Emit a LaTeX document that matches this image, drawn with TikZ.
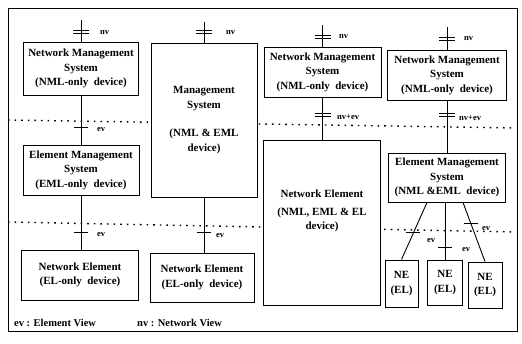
\documentclass[tikz,border=0pt]{standalone}
\usepackage{fontspec}
\setmainfont{Liberation Serif}
\usetikzlibrary{calc}
\begin{document}
\begin{tikzpicture}[x=1pt,y=-1pt,
  box/.style={draw,line width=0.9pt,fill=white,inner sep=0pt},
  txt/.style={font=\bfseries\fontsize{11}{14.5}\selectfont,align=center},
  lbl/.style={font=\bfseries\fontsize{8.5}{10}\selectfont,anchor=west,inner sep=0pt},
  leg/.style={font=\bfseries\fontsize{10.5}{12}\selectfont,anchor=west,inner sep=0pt},
  dots/.style={line width=1.4pt,dash pattern=on 1.6pt off 5pt},
  conn/.style={line width=0.9pt},
  tick/.style={line width=0.8pt},
  nvtick/.pic={\draw[tick] (-8,-1.5) -- (8,-1.5) (-8,1.5) -- (8,1.5);},
  evtick/.pic={\draw[tick] (-7,0) -- (7,0);}
]
\useasboundingbox (0,0) rectangle (522,344);
% frame
\draw[line width=0.9pt] (8,8) rectangle (517,331);
% level separators
\coordinate (d1a) at (8,120);  \coordinate (d1b) at (516,128);
\coordinate (d2a) at (8,222);  \coordinate (d2b) at (516,232);
\draw[dots] (d1a) -- (d1b);
\draw[dots] (d2a) -- (d2b);

% column 1
\node[box,txt,minimum width=115pt,minimum height=53pt] (nms1) at (81,68.5) {Network Management\\System\\(NML-only\ \ device)};
\node[box,txt,minimum width=116pt,minimum height=50pt] (ems1) at (81,170) {Element Management\\System\\(EML-only\ \ device)};
\node[box,txt,minimum width=117pt,minimum height=50pt] (ne1) at (80,275) {Network Element\\(EL-only\ \ device)};
% column 2
\node[box,txt,minimum width=106pt,minimum height=154pt] (ms2) at (204,120) {Management\\System\\[14pt](NML \& EML\\device)};
\node[box,txt,minimum width=104pt,minimum height=49pt] (ne2) at (202,277.5) {Network Element\\(EL-only\ \ device)};
% column 3
\node[box,txt,minimum width=117pt,minimum height=50pt] (nms3) at (322.5,72) {Network Management\\System\\(NML-only\ \ device)};
\node[box,minimum width=117pt,minimum height=165pt] (ne3) at (322,222.5) {};
\node[txt] (ne3t) at (322,211) {Network Element\\[3pt](NML, EML \& EL\\device)};
% column 4
\node[box,txt,minimum width=119pt,minimum height=50pt] (nms4) at (447,75) {Network Management\\System\\(NML-only\ \ device)};
\node[box,txt,minimum width=117pt,minimum height=49pt] (ems4) at (447,177.5) {Element Management\\System\\(NML \&EML\ \ device)};
\node[box,txt,minimum width=33pt,minimum height=47pt] (nea) at (401.5,283.5) {NE\\(EL)};
\node[box,txt,minimum width=35pt,minimum height=45pt] (neb) at (445,282.5) {NE\\(EL)};
\node[box,txt,minimum width=34pt,minimum height=46pt] (nec) at (485,285) {NE\\(EL)};

% top free ends
\coordinate (top1) at (81,20);
\coordinate (top2) at (204,22);
\coordinate (top3) at (322.5,25);
\coordinate (top4) at (447,27);

% connectors
\draw[conn] (top1) -- coordinate[pos=0.55] (k1) (nms1.north);
\draw[conn] (nms1.south) -- coordinate[pos=0.66] (k2) (ems1.north);
\draw[conn] (ems1.south) -- coordinate[pos=0.69] (k3) (ems1.south |- ne1.north);
\draw[conn] (top2) -- coordinate[pos=0.48] (k4) (ms2.north);
\draw[conn] (ms2.south) -- coordinate[pos=0.64] (k5) (ms2.south |- ne2.north);
\draw[conn] (top3) -- coordinate[pos=0.55] (k6) (nms3.north);
\draw[conn] (nms3.south) -- coordinate[pos=0.42] (k7) (nms3.south |- ne3.north);
\draw[conn] (top4) -- coordinate[pos=0.52] (k8) (nms4.north);
\draw[conn] (nms4.south) -- coordinate[pos=0.28] (k9) (ems4.north);
\draw[conn] ($(ems4.south)+(-20,0)$) -- coordinate[pos=0.53] (ka) (nea.north);
\draw[conn] (ems4.south -| neb.north) -- coordinate[pos=0.78] (kb) (neb.north);
\draw[conn] ($(ems4.south)+(16,0)$) -- coordinate[pos=0.35] (kc) (nec.north);

% interface ticks
\pic at (k1) {nvtick};
\pic at (k2) {evtick};
\pic at (k3) {evtick};
\pic at (k4) {nvtick};
\pic at (k5) {evtick};
\pic at (k6) {nvtick};
\pic at (k7) {nvtick};
\pic at (k8) {nvtick};
\pic at (k9) {nvtick};
\pic at (ka) {evtick};
\pic at (kb) {evtick};
\pic at (kc) {evtick};

% tick labels
\node[lbl] (l1) at (100,33) {nv};
\node[lbl] (l2) at (97,130) {ev};
\node[lbl] (l3) at (97,235) {ev};
\node[lbl] (l4) at (226,33) {nv};
\node[lbl] (l5) at (216,236) {ev};
\node[lbl] (l6) at (339,37) {nv};
\node[lbl] (l7) at (337,117) {nv+ev};
\node[lbl] (l8) at (464,39) {nv};
\node[lbl] (l9) at (459,118) {nv+ev};
\node[lbl] (la) at (427,241) {ev};
\node[lbl] (lb) at (462,250) {ev};
\node[lbl] (lc) at (482,229) {ev};

% legend
\node[leg] (leg1) at (14,323) {ev : Element View};
\node[leg] (leg2) at (137,323) {nv : Network View};
\end{tikzpicture}
\end{document}
